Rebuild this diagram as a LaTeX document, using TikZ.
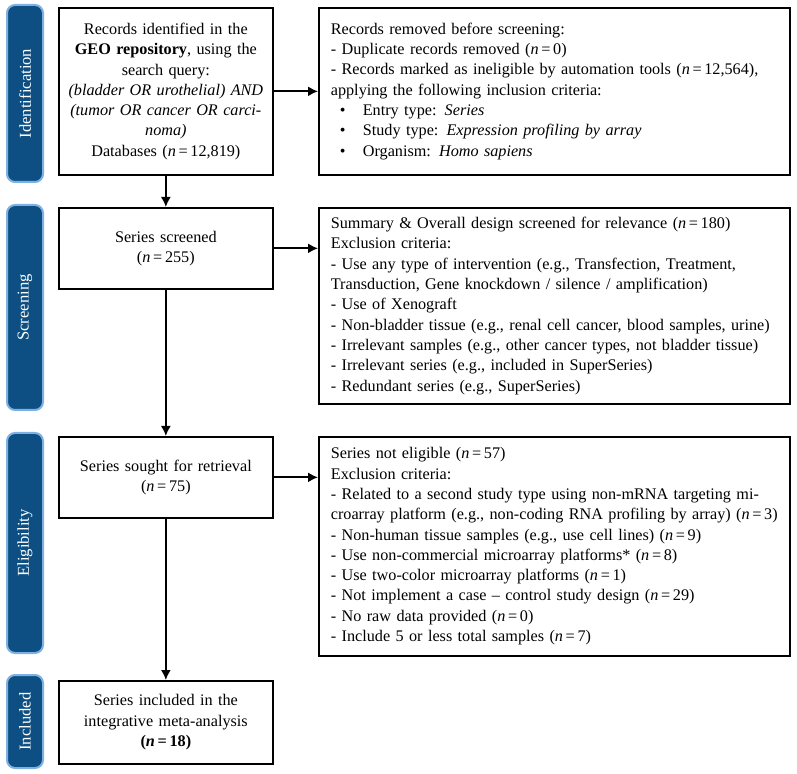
\documentclass[tikz,border=0pt]{standalone}
\usepackage{fontspec}
\setmainfont{Liberation Serif}
\usetikzlibrary{arrows.meta}
\definecolor{labfill}{HTML}{0D4F82}
\definecolor{labedge}{HTML}{7FB0E2}
\newcommand{\nn}[1]{(\textit{n}\,=\,#1)}
\newcommand{\bul}{\makebox[16pt][l]{\hspace{4.5pt}\textbullet}}
\begin{document}
\begin{tikzpicture}[x=0.5pt,y=-0.5pt,
  font=\fontsize{8.1}{10.15}\selectfont,
  lbox/.style={draw, line width=0.85pt, minimum width=107pt, text width=103pt, inner xsep=2pt, inner ysep=0pt, align=center, anchor=north west},
  rbox/.style={draw, line width=0.85pt, minimum width=235.5pt, text width=223.5pt, inner xsep=6pt, inner ysep=0pt, align=left, anchor=north west},
  lab/.style={draw=labedge, fill=labfill, line width=1pt, rounded corners=4pt, text=white, rotate=90, minimum height=18pt, inner sep=0pt, font=\fontsize{8.3}{10}\selectfont},
  arr/.style={line width=0.85pt, -{Latex[length=5pt,width=5pt]}}]
\useasboundingbox (0,0) rectangle (797,774);
% side labels
\node[lab, minimum width=88.5pt] (lid) at (25,93.5) {Identification};
\node[lab, minimum width=102.5pt] (lsc) at (25,307.5) {Screening};
\node[lab, minimum width=110pt] (lel) at (25,543) {Eligibility};
\node[lab, minimum width=46.5pt] (lin) at (25,721.5) {Included};
% left column
\node[lbox, minimum height=83.5pt] (id) at (58,7) {Records identified in the\\
\textbf{GEO repository}, using the\\
search query:\\
\textit{(bladder OR urothelial) AND}\\
\textit{(tumor OR cancer OR carci-}\\
\textit{noma)}\\
Databases \nn{12,819}};
\node[lbox, minimum height=40.5pt] (sc) at (58,207) {Series screened\\ \nn{255}};
\node[lbox, minimum height=40.5pt] (el) at (58,436) {Series sought for retrieval\\ \nn{75}};
\node[lbox, minimum height=41.5pt] (in) at (58,680) {Series included in the\\
integrative meta-analysis\\
\textbf{(\textit{n}\,=\,18)}};
% right column
\node[rbox, minimum height=83.5pt] (idx) at (318,7) {Records removed before screening:\\
- Duplicate records removed \nn{0}\\
- Records marked as ineligible by automation tools \nn{12,564},\\
applying the following inclusion criteria:\\
\bul Entry type: \textit{Series}\\
\bul Study type: \textit{Expression profiling by array}\\
\bul Organism: \textit{Homo sapiens}};
\node[rbox, minimum height=98pt] (scx) at (318,207) {Summary \& Overall design screened for relevance \nn{180}\\
Exclusion criteria:\\
- Use any type of intervention (e.g., Transfection, Treatment,\\
Transduction, Gene knockdown / silence / amplification)\\
- Use of Xenograft\\
- Non-bladder tissue (e.g., renal cell cancer, blood samples, urine)\\
- Irrelevant samples (e.g., other cancer types, not bladder tissue)\\
- Irrelevant series (e.g., included in SuperSeries)\\
- Redundant series (e.g., SuperSeries)};
\node[rbox, minimum height=109.5pt] (elx) at (318,436) {Series not eligible \nn{57}\\
Exclusion criteria:\\
- Related to a second study type using non-mRNA targeting mi-\\
croarray platform (e.g., non-coding RNA profiling by array) \nn{3}\\
- Non-human tissue samples (e.g., use cell lines) \nn{9}\\
- Use non-commercial microarray platforms* \nn{8}\\
- Use two-color microarray platforms \nn{1}\\
- Not implement a case -- control study design \nn{29}\\
- No raw data provided \nn{0}\\
- Include 5 or less total samples \nn{7}};
% connectors
\draw[arr] (id.south) -- (sc.north);
\draw[arr] (sc.south) -- (el.north);
\draw[arr] (el.south) -- (in.north);
\draw[arr] (id.east) -- (id.east -| idx.west);
\draw[arr] (sc.east) -- (sc.east -| scx.west);
\draw[arr] (el.east) -- (el.east -| elx.west);
\end{tikzpicture}
\end{document}
